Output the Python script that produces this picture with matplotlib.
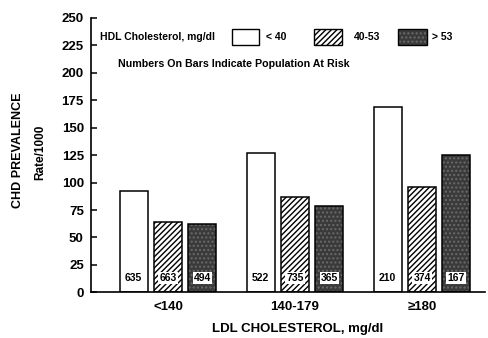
import matplotlib
matplotlib.use("Agg")
import matplotlib.pyplot as plt
from matplotlib.patches import Rectangle
import numpy as np

plt.rcParams['font.family'] = ['Liberation Sans Narrow', 'Liberation Sans', 'DejaVu Sans']
plt.rcParams['hatch.linewidth'] = 1.0

ldl_groups = ['<140', '140-179', '\u2265180']
hdl_levels = ['< 40', '40-53', '> 53']
rates = {
    '< 40':  [92, 127, 169],
    '40-53': [64, 87, 96],
    '> 53':  [62, 79, 125],
}
population = {
    '< 40':  ['635', '522', '210'],
    '40-53': ['663', '735', '374'],
    '> 53':  ['494', '365', '167'],
}
yticks = [0, 25, 50, 75, 100, 125, 150, 175, 200, 225, 250]

styles = {
    '< 40':  dict(facecolor='white', hatch=None),
    '40-53': dict(facecolor='white', hatch='//////'),
    '> 53':  dict(facecolor='#3a3a3a', hatch=None),
}

fig = plt.figure(figsize=(4.88, 3.38), dpi=100)
ax = fig.add_axes([90.7/488, 1-292.3/338, (485-90.7)/488, (292.3-18)/338])

x = np.arange(len(ldl_groups))
width = 0.22
step = 0.27
for i, lvl in enumerate(hdl_levels):
    pos = x + (i-1)*step
    st = styles[lvl]
    if lvl == '> 53':
        ax.bar(pos, rates[lvl], width, facecolor=st['facecolor'], hatch='....',
               edgecolor='#6a6a6a', linewidth=0, zorder=2)
        ax.bar(pos, rates[lvl], width, facecolor='none', edgecolor='black',
               linewidth=1.1, zorder=2)
    else:
        ax.bar(pos, rates[lvl], width, facecolor=st['facecolor'], hatch=st['hatch'],
               edgecolor='black', linewidth=1.1, zorder=2)
    for p, lab in zip(pos, population[lvl]):
        ax.text(p, 13, lab, ha='center', va='center', fontsize=7.5, fontweight='bold',
                bbox=dict(facecolor='white', edgecolor='none', pad=0.8), zorder=3)

ax.set_xlim(-0.609, 2.496)
ax.set_ylim(0, 250)
ax.set_yticks(yticks)
ax.set_yticklabels([str(t) for t in yticks], fontsize=9.5, fontweight='bold')
ax.set_xticks(x)
ax.set_xticklabels(ldl_groups, fontsize=9.5, fontweight='bold')
ax.tick_params(axis='y', direction='in', length=4, width=1.1, pad=5)
ax.tick_params(axis='x', length=0, pad=6)
for s in ['top', 'right']:
    ax.spines[s].set_visible(False)
for s in ['left', 'bottom']:
    ax.spines[s].set_linewidth(1.2)

# legend
def ax_x(px):
    return (px - 90.7) / (485 - 90.7)
def ax_y(py):
    return (292.3 - py) / (292.3 - 18)

ax.text(ax_x(100), ax_y(37), 'HDL Cholesterol, mg/dl', transform=ax.transAxes,
        ha='left', va='center', fontsize=7.5, fontweight='bold')
legend_boxes = [(232, 259, 266, '< 40'), (314, 342, 354, '40-53'), (398, 427, 432, '> 53')]
for (x0, x1, tx, lvl) in legend_boxes:
    st = styles[lvl]
    if lvl == '> 53':
        r = Rectangle((ax_x(x0), ax_y(45)), ax_x(x1)-ax_x(x0), ax_y(29)-ax_y(45),
                      transform=ax.transAxes, facecolor=st['facecolor'], hatch='....',
                      edgecolor='#6a6a6a', linewidth=0, clip_on=False)
        ax.add_patch(r)
    r = Rectangle((ax_x(x0), ax_y(45)), ax_x(x1)-ax_x(x0), ax_y(29)-ax_y(45),
                  transform=ax.transAxes,
                  facecolor='none' if lvl == '> 53' else st['facecolor'],
                  hatch=st['hatch'], edgecolor='black', linewidth=1.0, clip_on=False)
    ax.add_patch(r)
    ax.text(ax_x(tx), ax_y(37), lvl, transform=ax.transAxes, ha='left', va='center',
            fontsize=7.5, fontweight='bold')
ax.text(ax_x(118), ax_y(64), 'Numbers On Bars Indicate Population At Risk',
        transform=ax.transAxes, ha='left', va='center', fontsize=7.7, fontweight='bold')

fig.text(18/488, 1-150/338, 'CHD PREVALENCE', rotation=90, ha='center', va='center',
         fontsize=9, fontweight='bold')
fig.text(40/488, 1-152/338, 'Rate/1000', rotation=90, ha='center', va='center',
         fontsize=8.5, fontweight='bold')
fig.text(298/488, 1-329/338, 'LDL CHOLESTEROL, mg/dl', ha='center', va='center',
         fontsize=9.5, fontweight='bold')

fig.savefig('out.png', dpi=100)
